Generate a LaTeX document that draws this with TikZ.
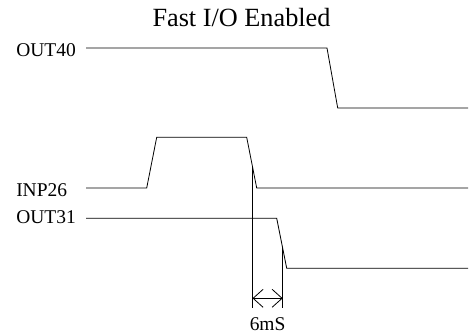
\documentclass[tikz,border=0pt]{standalone}
\usepackage{fontspec}
\setmainfont{Liberation Serif}
\usetikzlibrary{arrows.meta,calc}

\tikzset{
  signal/.style={line width=0.6pt},
  marker/.style={line width=0.6pt},
  siglabel/.style={anchor=base west,inner sep=0pt,font=\fontsize{14.6}{17}\selectfont},
  dimarrow/.style={line width=0.6pt,{Straight Barb[length=7.5pt,width=13.5pt]}-{Straight Barb[length=7.5pt,width=13.5pt]}}
}

\begin{document}
\begin{tikzpicture}[x=0.75pt,y=0.75pt,yscale=-1,xscale=1]
\useasboundingbox (0,0) rectangle (471,333);

% Text Node
\node (title) [anchor=base,inner sep=0pt,font=\fontsize{19.7}{23}\selectfont] at (241.5,26.7) {Fast I/O Enabled};
% Text Node
\node (lblouta) [siglabel] at (16,56) {OUT40};
% Text Node
\node (lblinp) [siglabel] at (16,196) {INP26};
% Text Node
\node (lbloutb) [siglabel] at (16,223.3) {OUT31};

% Straight Lines
\draw [signal] (86,48) -- (327,48) -- (337.7,108) -- (468,108);
% Straight Lines
\draw [signal] (86,188) -- (146.7,188) -- (156.7,137.3) -- (246.7,137.3) coordinate (inpfall)
  -- (256.7,188) coordinate (inplow) -- (468,188);
% Straight Lines
\draw [signal] (86,218.3) -- (276.7,218.3) coordinate (outfall)
  -- (286.7,268.3) coordinate (outlow) -- (468,268.3);

% delay markers
\coordinate (mka) at ($(inpfall)!0.58!(inplow)$);
\coordinate (mkb) at ($(outfall)!0.6!(outlow)$);
\coordinate (bottom) at (0,308.3);
\coordinate (dimy) at (0,298.3);
\draw [marker] (mka) -- (mka |- bottom);
\draw [marker] (mkb) -- (mkb |- bottom);
\draw [dimarrow] (mka |- dimy) -- (mkb |- dimy);

% Text Node
\node (delay) [anchor=base,inner sep=0pt,font=\fontsize{14.6}{17}\selectfont] at ($(mka |- 0,330.3)!0.5!(mkb |- 0,330.3)$) {6mS};

\end{tikzpicture}
\end{document}
